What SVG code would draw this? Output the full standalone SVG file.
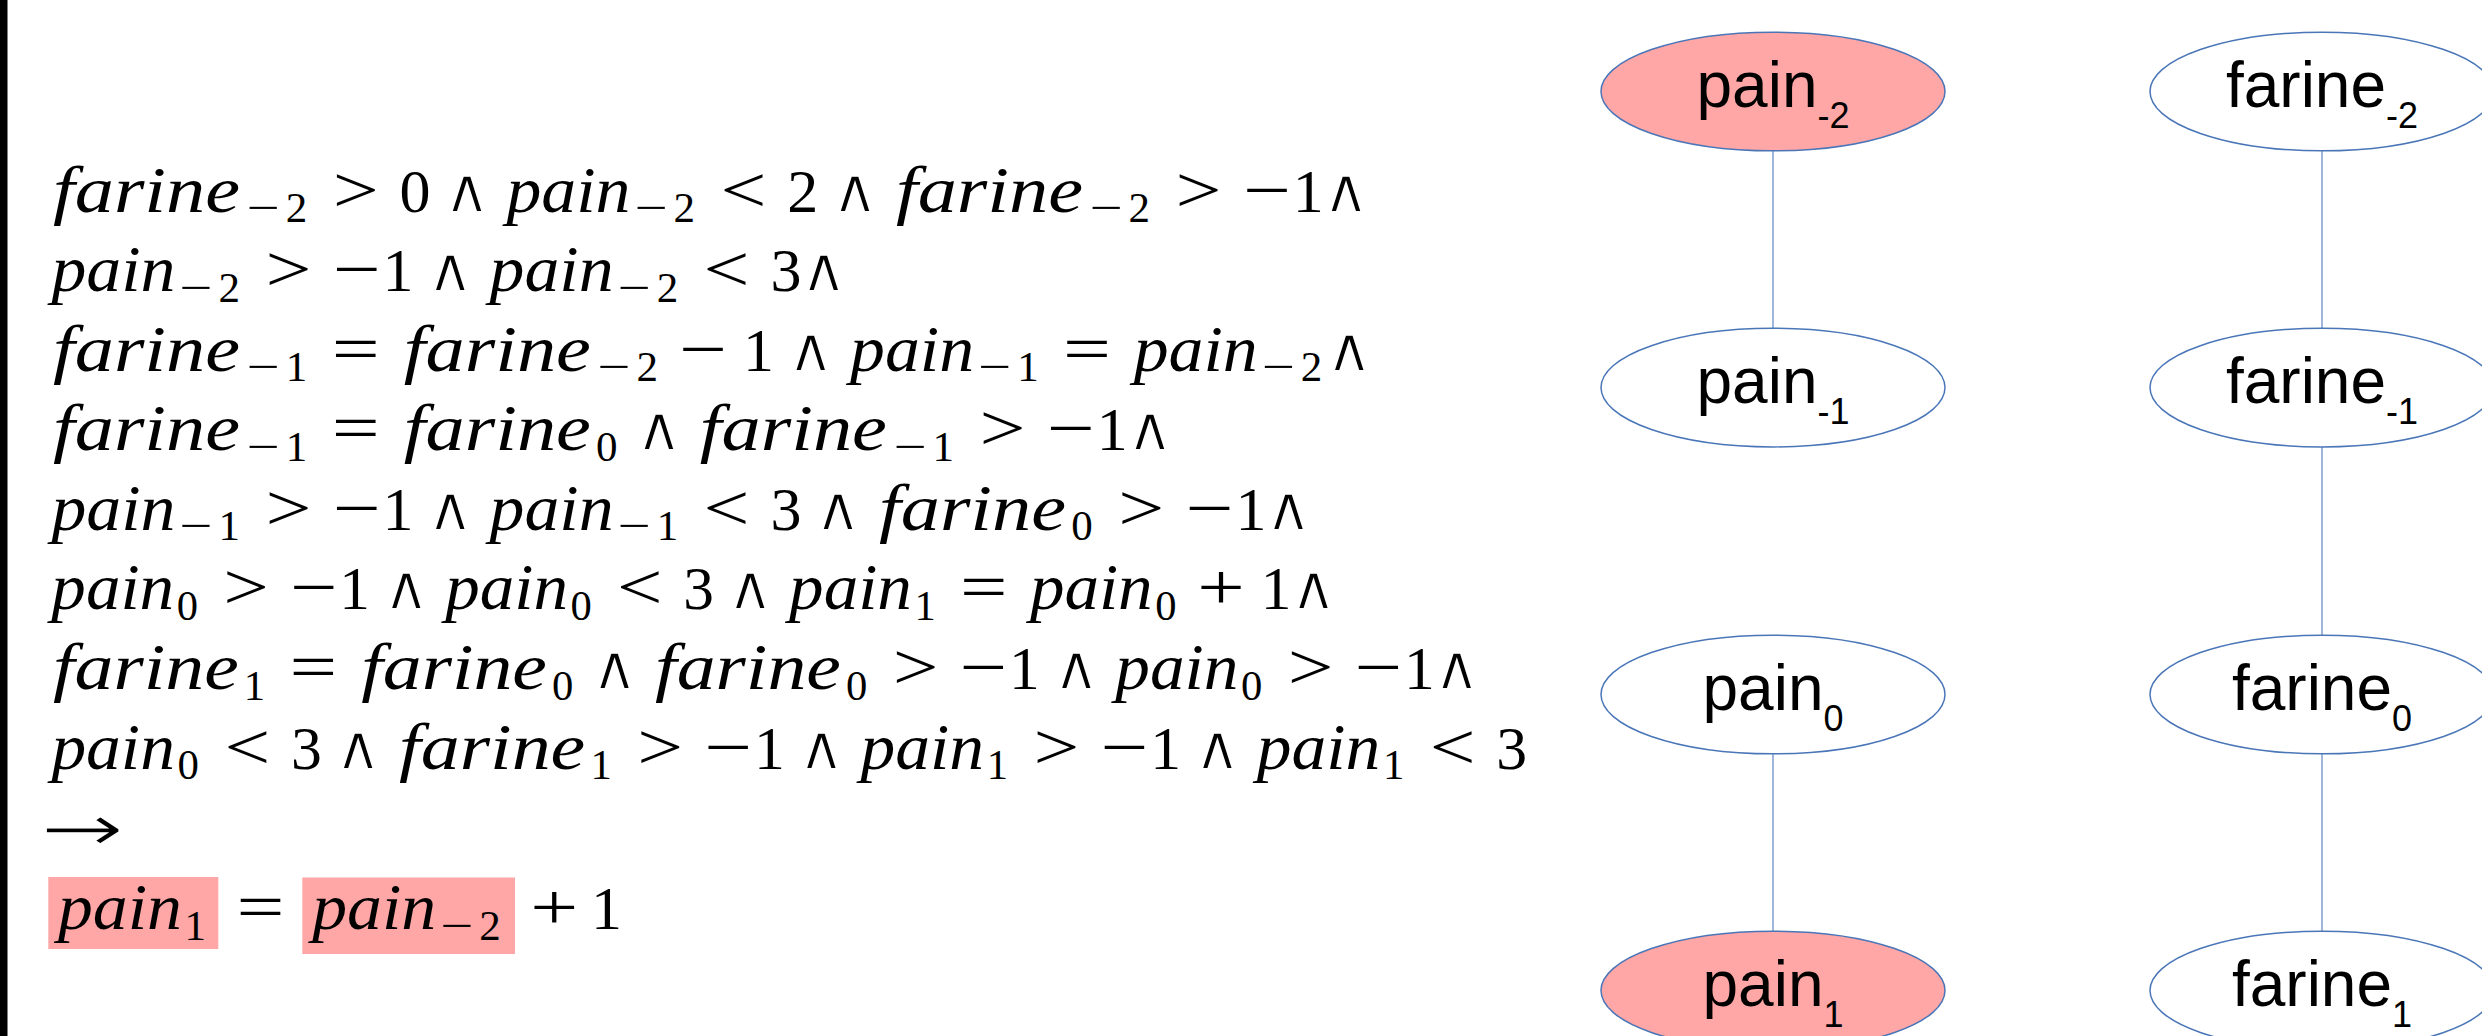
<svg xmlns="http://www.w3.org/2000/svg" width="2482" height="1036" viewBox="0 0 2482 1036">
<style>
text{fill:#000}
.v{font-family:"Liberation Serif","DejaVu Serif",serif;font-style:italic;font-size:66px}
.d{font-family:"Liberation Serif",serif;font-size:62px}
.sd{font-family:"Liberation Serif",serif;font-size:43px}
.r{font-family:"Liberation Serif",serif;font-size:66px}
.w{font-family:"DejaVu Serif","DejaVu Sans",serif;font-size:62px;stroke:#fff;stroke-width:1.8px}
.ar{font-family:"DejaVu Sans",sans-serif;font-size:66px;stroke:#fff;stroke-width:1.8px}
.hl{fill:#FFA6A6}
.node ellipse{stroke:#4a76b8;stroke-width:1.5}
.lbl{font-family:"Liberation Sans",Arial,sans-serif;font-size:64px}
.sub{font-size:36px}
.edge{stroke:#6f8fc8;stroke-width:1.3}
</style>
<rect x="0" y="0" width="7.5" height="1036" fill="#000"/>
<g id="formula">
<g id="line1">
<text class="v" x="53" y="211.5" textLength="187" lengthAdjust="spacingAndGlyphs">farine</text>
<text class="sd" x="246.8" y="222" textLength="33" lengthAdjust="spacingAndGlyphs">−</text>
<text class="sd" x="285.65" y="222">2</text>
<text class="r" x="332.7" y="211.5" textLength="46" lengthAdjust="spacingAndGlyphs">&gt;</text>
<text class="d" x="399.5" y="211.5">0</text>
<text class="w" x="443.1" y="211.5" textLength="48" lengthAdjust="spacingAndGlyphs">∧</text>
<text class="v" x="506.5" y="211.5" textLength="124" lengthAdjust="spacingAndGlyphs">pain</text>
<text class="sd" x="634.7" y="222" textLength="33" lengthAdjust="spacingAndGlyphs">−</text>
<text class="sd" x="673.55" y="222">2</text>
<text class="r" x="720.5" y="211.5" textLength="46" lengthAdjust="spacingAndGlyphs">&lt;</text>
<text class="d" x="787.3" y="211.5">2</text>
<text class="w" x="831" y="211.5" textLength="48" lengthAdjust="spacingAndGlyphs">∧</text>
<text class="v" x="895.9" y="211.5" textLength="187" lengthAdjust="spacingAndGlyphs">farine</text>
<text class="sd" x="1089.7" y="222" textLength="33" lengthAdjust="spacingAndGlyphs">−</text>
<text class="sd" x="1128.55" y="222">2</text>
<text class="r" x="1175.6" y="211.5" textLength="46" lengthAdjust="spacingAndGlyphs">&gt;</text>
<text class="r" x="1242.9" y="211.5" textLength="48" lengthAdjust="spacingAndGlyphs">−</text>
<text class="d" x="1292.7" y="211.5">1</text>
<text class="w" x="1321.9" y="211.5" textLength="48" lengthAdjust="spacingAndGlyphs">∧</text>
</g>
<g id="line2">
<text class="v" x="51.4" y="291.1" textLength="124" lengthAdjust="spacingAndGlyphs">pain</text>
<text class="sd" x="179.6" y="301.6" textLength="33" lengthAdjust="spacingAndGlyphs">−</text>
<text class="sd" x="218.45" y="301.6">2</text>
<text class="r" x="265.5" y="291.1" textLength="46" lengthAdjust="spacingAndGlyphs">&gt;</text>
<text class="r" x="332.8" y="291.1" textLength="48" lengthAdjust="spacingAndGlyphs">−</text>
<text class="d" x="382.6" y="291.1">1</text>
<text class="w" x="426.2" y="291.1" textLength="48" lengthAdjust="spacingAndGlyphs">∧</text>
<text class="v" x="489.6" y="291.1" textLength="124" lengthAdjust="spacingAndGlyphs">pain</text>
<text class="sd" x="617.8" y="301.6" textLength="33" lengthAdjust="spacingAndGlyphs">−</text>
<text class="sd" x="656.65" y="301.6">2</text>
<text class="r" x="703.6" y="291.1" textLength="46" lengthAdjust="spacingAndGlyphs">&lt;</text>
<text class="d" x="770.4" y="291.1">3</text>
<text class="w" x="799.7" y="291.1" textLength="48" lengthAdjust="spacingAndGlyphs">∧</text>
</g>
<g id="line3">
<text class="v" x="53" y="370.7" textLength="187" lengthAdjust="spacingAndGlyphs">farine</text>
<text class="sd" x="246.8" y="381.2" textLength="33" lengthAdjust="spacingAndGlyphs">−</text>
<text class="sd" x="285.65" y="381.2">1</text>
<text class="r" x="331.7" y="370.7" textLength="48" lengthAdjust="spacingAndGlyphs">=</text>
<text class="v" x="403.8" y="370.7" textLength="187" lengthAdjust="spacingAndGlyphs">farine</text>
<text class="sd" x="597.6" y="381.2" textLength="33" lengthAdjust="spacingAndGlyphs">−</text>
<text class="sd" x="636.45" y="381.2">2</text>
<text class="r" x="678.9" y="370.7" textLength="48" lengthAdjust="spacingAndGlyphs">−</text>
<text class="d" x="743.1" y="370.7">1</text>
<text class="w" x="786.7" y="370.7" textLength="48" lengthAdjust="spacingAndGlyphs">∧</text>
<text class="v" x="850.1" y="370.7" textLength="124" lengthAdjust="spacingAndGlyphs">pain</text>
<text class="sd" x="978.3" y="381.2" textLength="33" lengthAdjust="spacingAndGlyphs">−</text>
<text class="sd" x="1017.15" y="381.2">1</text>
<text class="r" x="1063.1" y="370.7" textLength="48" lengthAdjust="spacingAndGlyphs">=</text>
<text class="v" x="1133.7" y="370.7" textLength="124" lengthAdjust="spacingAndGlyphs">pain</text>
<text class="sd" x="1261.9" y="381.2" textLength="33" lengthAdjust="spacingAndGlyphs">−</text>
<text class="sd" x="1300.75" y="381.2">2</text>
<text class="w" x="1325.2" y="370.7" textLength="48" lengthAdjust="spacingAndGlyphs">∧</text>
</g>
<g id="line4">
<text class="v" x="53" y="450.3" textLength="187" lengthAdjust="spacingAndGlyphs">farine</text>
<text class="sd" x="246.8" y="460.8" textLength="33" lengthAdjust="spacingAndGlyphs">−</text>
<text class="sd" x="285.65" y="460.8">1</text>
<text class="r" x="331.7" y="450.3" textLength="48" lengthAdjust="spacingAndGlyphs">=</text>
<text class="v" x="403.8" y="450.3" textLength="187" lengthAdjust="spacingAndGlyphs">farine</text>
<text class="sd" x="596.05" y="460.8">0</text>
<text class="w" x="634.9" y="450.3" textLength="48" lengthAdjust="spacingAndGlyphs">∧</text>
<text class="v" x="699.8" y="450.3" textLength="187" lengthAdjust="spacingAndGlyphs">farine</text>
<text class="sd" x="893.7" y="460.8" textLength="33" lengthAdjust="spacingAndGlyphs">−</text>
<text class="sd" x="932.55" y="460.8">1</text>
<text class="r" x="979.5" y="450.3" textLength="46" lengthAdjust="spacingAndGlyphs">&gt;</text>
<text class="r" x="1046.8" y="450.3" textLength="48" lengthAdjust="spacingAndGlyphs">−</text>
<text class="d" x="1096.7" y="450.3">1</text>
<text class="w" x="1125.9" y="450.3" textLength="48" lengthAdjust="spacingAndGlyphs">∧</text>
</g>
<g id="line5">
<text class="v" x="51.4" y="529.9" textLength="124" lengthAdjust="spacingAndGlyphs">pain</text>
<text class="sd" x="179.6" y="540.4" textLength="33" lengthAdjust="spacingAndGlyphs">−</text>
<text class="sd" x="218.45" y="540.4">1</text>
<text class="r" x="265.5" y="529.9" textLength="46" lengthAdjust="spacingAndGlyphs">&gt;</text>
<text class="r" x="332.8" y="529.9" textLength="48" lengthAdjust="spacingAndGlyphs">−</text>
<text class="d" x="382.6" y="529.9">1</text>
<text class="w" x="426.2" y="529.9" textLength="48" lengthAdjust="spacingAndGlyphs">∧</text>
<text class="v" x="489.6" y="529.9" textLength="124" lengthAdjust="spacingAndGlyphs">pain</text>
<text class="sd" x="617.8" y="540.4" textLength="33" lengthAdjust="spacingAndGlyphs">−</text>
<text class="sd" x="656.65" y="540.4">1</text>
<text class="r" x="703.6" y="529.9" textLength="46" lengthAdjust="spacingAndGlyphs">&lt;</text>
<text class="d" x="770.4" y="529.9">3</text>
<text class="w" x="814.1" y="529.9" textLength="48" lengthAdjust="spacingAndGlyphs">∧</text>
<text class="v" x="879" y="529.9" textLength="187" lengthAdjust="spacingAndGlyphs">farine</text>
<text class="sd" x="1071.25" y="540.4">0</text>
<text class="r" x="1118.3" y="529.9" textLength="46" lengthAdjust="spacingAndGlyphs">&gt;</text>
<text class="r" x="1185.6" y="529.9" textLength="48" lengthAdjust="spacingAndGlyphs">−</text>
<text class="d" x="1235.4" y="529.9">1</text>
<text class="w" x="1264.6" y="529.9" textLength="48" lengthAdjust="spacingAndGlyphs">∧</text>
</g>
<g id="line6" transform="translate(48 0) scale(0.99 1) translate(-48 0)">
<text class="v" x="51.4" y="609.5" textLength="124" lengthAdjust="spacingAndGlyphs">pain</text>
<text class="sd" x="178.05" y="620">0</text>
<text class="r" x="225.1" y="609.5" textLength="46" lengthAdjust="spacingAndGlyphs">&gt;</text>
<text class="r" x="292.4" y="609.5" textLength="48" lengthAdjust="spacingAndGlyphs">−</text>
<text class="d" x="342.2" y="609.5">1</text>
<text class="w" x="385.8" y="609.5" textLength="48" lengthAdjust="spacingAndGlyphs">∧</text>
<text class="v" x="449.2" y="609.5" textLength="124" lengthAdjust="spacingAndGlyphs">pain</text>
<text class="sd" x="575.75" y="620">0</text>
<text class="r" x="622.8" y="609.5" textLength="46" lengthAdjust="spacingAndGlyphs">&lt;</text>
<text class="d" x="689.6" y="609.5">3</text>
<text class="w" x="733.3" y="609.5" textLength="48" lengthAdjust="spacingAndGlyphs">∧</text>
<text class="v" x="796.6" y="609.5" textLength="124" lengthAdjust="spacingAndGlyphs">pain</text>
<text class="sd" x="923.25" y="620">1</text>
<text class="r" x="969.3" y="609.5" textLength="48" lengthAdjust="spacingAndGlyphs">=</text>
<text class="v" x="1039.8" y="609.5" textLength="124" lengthAdjust="spacingAndGlyphs">pain</text>
<text class="sd" x="1166.45" y="620">0</text>
<text class="r" x="1208.8" y="609.5" textLength="48" lengthAdjust="spacingAndGlyphs">+</text>
<text class="d" x="1273.1" y="609.5">1</text>
<text class="w" x="1302.3" y="609.5" textLength="48" lengthAdjust="spacingAndGlyphs">∧</text>
</g>
<g id="line7" transform="translate(48 0) scale(0.993 1) translate(-48 0)">
<text class="v" x="53" y="689.1" textLength="187" lengthAdjust="spacingAndGlyphs">farine</text>
<text class="sd" x="245.25" y="699.6">1</text>
<text class="r" x="291.3" y="689.1" textLength="48" lengthAdjust="spacingAndGlyphs">=</text>
<text class="v" x="363.4" y="689.1" textLength="187" lengthAdjust="spacingAndGlyphs">farine</text>
<text class="sd" x="555.65" y="699.6">0</text>
<text class="w" x="594.5" y="689.1" textLength="48" lengthAdjust="spacingAndGlyphs">∧</text>
<text class="v" x="659.4" y="689.1" textLength="187" lengthAdjust="spacingAndGlyphs">farine</text>
<text class="sd" x="851.75" y="699.6">0</text>
<text class="r" x="898.7" y="689.1" textLength="46" lengthAdjust="spacingAndGlyphs">&gt;</text>
<text class="r" x="966" y="689.1" textLength="48" lengthAdjust="spacingAndGlyphs">−</text>
<text class="d" x="1015.8" y="689.1">1</text>
<text class="w" x="1059.5" y="689.1" textLength="48" lengthAdjust="spacingAndGlyphs">∧</text>
<text class="v" x="1122.8" y="689.1" textLength="124" lengthAdjust="spacingAndGlyphs">pain</text>
<text class="sd" x="1249.45" y="699.6">0</text>
<text class="r" x="1296.5" y="689.1" textLength="46" lengthAdjust="spacingAndGlyphs">&gt;</text>
<text class="r" x="1363.8" y="689.1" textLength="48" lengthAdjust="spacingAndGlyphs">−</text>
<text class="d" x="1413.6" y="689.1">1</text>
<text class="w" x="1442.8" y="689.1" textLength="48" lengthAdjust="spacingAndGlyphs">∧</text>
</g>
<g id="line8" transform="translate(48 0) scale(0.996 1) translate(-48 0)">
<text class="v" x="51.4" y="768.7" textLength="124" lengthAdjust="spacingAndGlyphs">pain</text>
<text class="sd" x="178.05" y="779.2">0</text>
<text class="r" x="225.1" y="768.7" textLength="46" lengthAdjust="spacingAndGlyphs">&lt;</text>
<text class="d" x="291.9" y="768.7">3</text>
<text class="w" x="335.5" y="768.7" textLength="48" lengthAdjust="spacingAndGlyphs">∧</text>
<text class="v" x="400.4" y="768.7" textLength="187" lengthAdjust="spacingAndGlyphs">farine</text>
<text class="sd" x="592.65" y="779.2">1</text>
<text class="r" x="639.7" y="768.7" textLength="46" lengthAdjust="spacingAndGlyphs">&gt;</text>
<text class="r" x="707" y="768.7" textLength="48" lengthAdjust="spacingAndGlyphs">−</text>
<text class="d" x="756.8" y="768.7">1</text>
<text class="w" x="800.5" y="768.7" textLength="48" lengthAdjust="spacingAndGlyphs">∧</text>
<text class="v" x="863.8" y="768.7" textLength="124" lengthAdjust="spacingAndGlyphs">pain</text>
<text class="sd" x="990.45" y="779.2">1</text>
<text class="r" x="1037.5" y="768.7" textLength="46" lengthAdjust="spacingAndGlyphs">&gt;</text>
<text class="r" x="1104.8" y="768.7" textLength="48" lengthAdjust="spacingAndGlyphs">−</text>
<text class="d" x="1154.6" y="768.7">1</text>
<text class="w" x="1198.2" y="768.7" textLength="48" lengthAdjust="spacingAndGlyphs">∧</text>
<text class="v" x="1261.6" y="768.7" textLength="124" lengthAdjust="spacingAndGlyphs">pain</text>
<text class="sd" x="1388.25" y="779.2">1</text>
<text class="r" x="1435.2" y="768.7" textLength="46" lengthAdjust="spacingAndGlyphs">&lt;</text>
<text class="d" x="1502" y="768.7">3</text>
</g>
<g id="line9">
<text class="ar" x="39.7" y="850.5" textLength="85" lengthAdjust="spacingAndGlyphs">→</text>
</g>
<g id="line10">
<rect class="hl" x="48.3" y="877" width="170" height="72"/>
<rect class="hl" x="302.3" y="877.5" width="212.7" height="76.5"/>
<text class="v" x="57.9" y="929" textLength="124" lengthAdjust="spacingAndGlyphs">pain</text>
<text class="sd" x="184.55" y="939.5">1</text>
<text class="r" x="236.5" y="929" textLength="48" lengthAdjust="spacingAndGlyphs">=</text>
<text class="v" x="312.2" y="929" textLength="124" lengthAdjust="spacingAndGlyphs">pain</text>
<text class="sd" x="440.4" y="939.5" textLength="33" lengthAdjust="spacingAndGlyphs">−</text>
<text class="sd" x="479.25" y="939.5">2</text>
<text class="r" x="530.3" y="929" textLength="48" lengthAdjust="spacingAndGlyphs">+</text>
<text class="d" x="591" y="929">1</text>
</g>
</g>
<g id="edges">
<line class="edge" x1="1773" y1="151" x2="1773" y2="328"/>
<line class="edge" x1="1773" y1="754" x2="1773" y2="931"/>
<line class="edge" x1="2322" y1="151" x2="2322" y2="328"/>
<line class="edge" x1="2322" y1="447" x2="2322" y2="635"/>
<line class="edge" x1="2322" y1="754" x2="2322" y2="931"/>
</g>
<g id="n-pain-2" class="node">
<ellipse cx="1773" cy="91.5" rx="172" ry="59.3" fill="#FFA6A6"/>
<text class="lbl" x="1773" y="107.3" text-anchor="middle">pain<tspan class="sub" dy="21">-2</tspan></text>
</g>
<g id="n-pain-1" class="node">
<ellipse cx="1773" cy="387.6" rx="172" ry="59.3" fill="#fff"/>
<text class="lbl" x="1773" y="403.4" text-anchor="middle">pain<tspan class="sub" dy="21">-1</tspan></text>
</g>
<g id="n-pain0" class="node">
<ellipse cx="1773" cy="694.5" rx="172" ry="59.3" fill="#fff"/>
<text class="lbl" x="1773" y="710.3" text-anchor="middle">pain<tspan class="sub" dy="21">0</tspan></text>
</g>
<g id="n-pain1" class="node">
<ellipse cx="1773" cy="990.5" rx="172" ry="59.3" fill="#FFA6A6"/>
<text class="lbl" x="1773" y="1006.3" text-anchor="middle">pain<tspan class="sub" dy="21">1</tspan></text>
</g>
<g id="n-farine-2" class="node">
<ellipse cx="2322" cy="91.5" rx="172" ry="59.3" fill="#fff"/>
<text class="lbl" x="2322" y="107.3" text-anchor="middle">farine<tspan class="sub" dy="21">-2</tspan></text>
</g>
<g id="n-farine-1" class="node">
<ellipse cx="2322" cy="387.6" rx="172" ry="59.3" fill="#fff"/>
<text class="lbl" x="2322" y="403.4" text-anchor="middle">farine<tspan class="sub" dy="21">-1</tspan></text>
</g>
<g id="n-farine0" class="node">
<ellipse cx="2322" cy="694.5" rx="172" ry="59.3" fill="#fff"/>
<text class="lbl" x="2322" y="710.3" text-anchor="middle">farine<tspan class="sub" dy="21">0</tspan></text>
</g>
<g id="n-farine1" class="node">
<ellipse cx="2322" cy="990.5" rx="172" ry="59.3" fill="#fff"/>
<text class="lbl" x="2322" y="1006.3" text-anchor="middle">farine<tspan class="sub" dy="21">1</tspan></text>
</g>
</svg>
